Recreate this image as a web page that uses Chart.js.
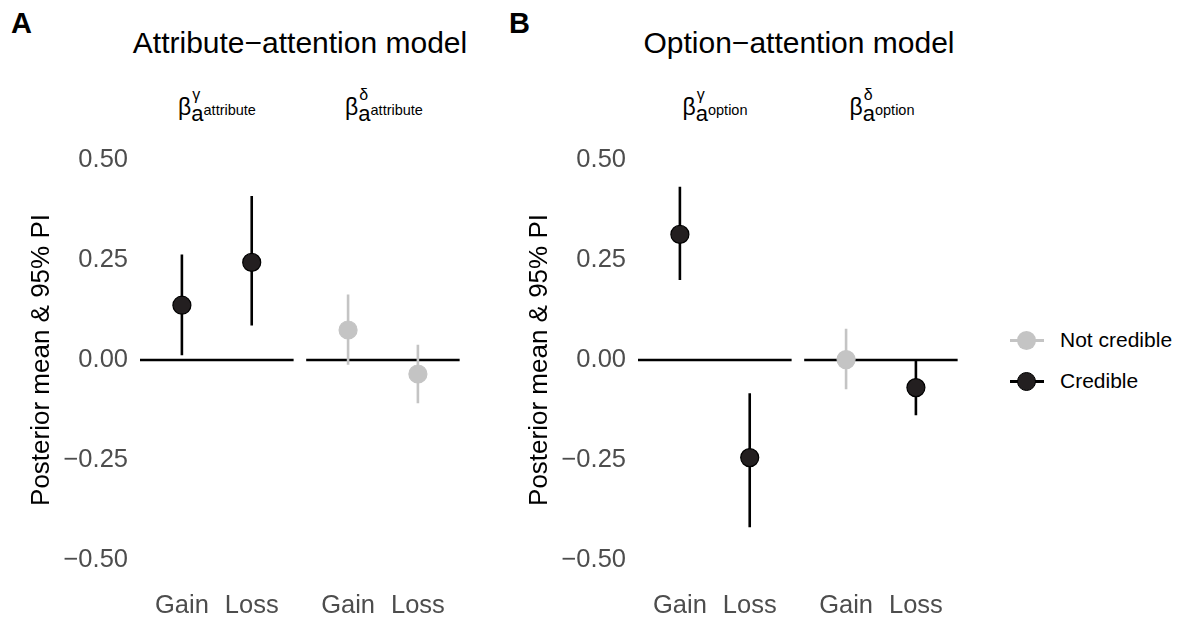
<!DOCTYPE html>
<html lang="en">

<head>
    <meta charset="UTF-8">
    <title>Attribute and option attention models</title>
    <script src="https://cdn.jsdelivr.net/npm/chart.js"></script>
    <style>
        body { margin: 0; width: 1180px; height: 618px; background: #fff; position: relative; overflow: hidden;
            font-family: "Liberation Sans", Arial, sans-serif; color: #000; }
        .panel { position: absolute; top: 0; width: 470px; height: 618px; }
        .tag { position: absolute; top: 7px; font-size: 29px; font-weight: bold; }
        .title { position: absolute; top: 26px; font-size: 30px; transform: translateX(-50%); white-space: nowrap; }
        .strip { position: absolute; top: 95px; transform: translateX(-50%); white-space: nowrap; font-size: 23px; line-height: 24px; }
        .strip .stack { position: relative; display: inline-block; }
        .strip .g { position: absolute; left: 1px; top: -12px; font-size: 16px; }
        .strip .a { position: relative; top: 6px; font-size: 22px; }
        .strip .s { position: relative; top: 0px; font-size: 14.5px; }
        .legend { position: absolute; left: 1008px; font-size: 21px; }
        .legend .row { position: absolute; left: 0; width: 180px; height: 30px; }
        .legend .ln { position: absolute; left: 2px; top: 13px; width: 34px; height: 3px; }
        .legend .dot { position: absolute; left: 9px; top: 5px; width: 19px; height: 19px; border-radius: 50%; box-sizing: border-box; }
        .legend .txt { position: absolute; left: 52px; top: 2px; white-space: nowrap; }
    </style>
</head>

<body>
    <div class="tag" style="left: 11px;">A</div>
    <div class="tag" style="left: 509px;">B</div>
    <div class="title" style="left: 300px;">Attribute−attention model</div>
    <div class="title" style="left: 799px;">Option−attention model</div>

    <div class="strip" style="left: 217px;">β<span class="stack"><span class="g">γ</span><span class="a">a</span></span><span class="s">attribute</span></div>
    <div class="strip" style="left: 384px;">β<span class="stack"><span class="g">δ</span><span class="a">a</span></span><span class="s">attribute</span></div>
    <div class="strip" style="left: 715px;">β<span class="stack"><span class="g">γ</span><span class="a">a</span></span><span class="s">option</span></div>
    <div class="strip" style="left: 882px;">β<span class="stack"><span class="g">δ</span><span class="a">a</span></span><span class="s">option</span></div>

    <div class="panel" style="left: 0px;"><canvas id="chartA"></canvas></div>
    <div class="panel" style="left: 498px;"><canvas id="chartB"></canvas></div>

    <div class="legend" style="top: 326px;">
        <div class="row" style="top: 0;">
            <div class="ln" style="background: #c4c4c4;"></div>
            <div class="dot" style="background: #c4c4c4;"></div>
            <div class="txt">Not credible</div>
        </div>
        <div class="row" style="top: 41px;">
            <div class="ln" style="background: #000;"></div>
            <div class="dot" style="background: #231f20; border: 1.5px solid #000;"></div>
            <div class="txt">Credible</div>
        </div>
    </div>

    <script>
        // categories inside each facet, facet order: gamma then delta
        var categories = ['Gain', 'Loss'];
        var yTicks = [-0.5, -0.25, 0, 0.25, 0.5];

        // attribute-attention model: [gamma Gain, gamma Loss, delta Gain, delta Loss]
        var attrMean = [0.137, 0.244, 0.075, -0.035];
        var attrLow = [0.012, 0.086, -0.012, -0.108];
        var attrHigh = [0.264, 0.410, 0.164, 0.038];
        var attrCredible = [true, true, false, false];

        // option-attention model
        var optMean = [0.314, -0.244, 0.001, -0.069];
        var optLow = [0.200, -0.418, -0.073, -0.138];
        var optHigh = [0.433, -0.083, 0.078, 0.000];
        var optCredible = [true, true, false, true];

        var DARK = '#231f20', GREY = '#c4c4c4';
        var FACET_SHIFT = 2.38; // second facet sits right of the first one
        var xPos = [1, 2, 1 + FACET_SHIFT, 2 + FACET_SHIFT];
        var facetRanges = [[0.4, 2.6], [0.4 + FACET_SHIFT, 2.6 + FACET_SHIFT]];

        function makeChart(id, mean, low, high, credible) {
            var datasets = [];
            // points on top
            datasets.push({
                type: 'scatter',
                data: mean.map(function (v, i) { return { x: xPos[i], y: v }; }),
                pointRadius: 9,
                pointBorderWidth: 1.2,
                pointBackgroundColor: credible.map(function (c) { return c ? DARK : GREY; }),
                pointBorderColor: credible.map(function (c) { return c ? '#000' : GREY; }),
                order: 0
            });
            // 95% intervals
            mean.forEach(function (v, i) {
                datasets.push({
                    type: 'line',
                    data: [{ x: xPos[i], y: low[i] }, { x: xPos[i], y: high[i] }],
                    borderColor: credible[i] ? '#000' : GREY,
                    borderWidth: 2.6,
                    pointRadius: 0,
                    order: 1
                });
            });
            // zero reference line per facet
            facetRanges.forEach(function (r) {
                datasets.push({
                    type: 'line',
                    data: [{ x: r[0], y: 0 }, { x: r[1], y: 0 }],
                    borderColor: '#000',
                    borderWidth: 2.7,
                    pointRadius: 0,
                    order: 2
                });
            });

            return new Chart(document.getElementById(id), {
                type: 'scatter',
                data: { datasets: datasets },
                options: {
                    responsive: true,
                    maintainAspectRatio: false,
                    animation: false,
                    events: [],
                    layout: { padding: { top: 140, right: 9, left: 0, bottom: 0 } },
                    plugins: { legend: { display: false }, tooltip: { enabled: false } },
                    scales: {
                        x: {
                            type: 'linear',
                            min: 0.4,
                            max: 2.6 + FACET_SHIFT,
                            grid: { display: false },
                            border: { display: false },
                            afterBuildTicks: function (scale) {
                                scale.ticks = xPos.map(function (v) { return { value: v }; });
                            },
                            afterFit: function (scale) { scale.height = 38; },
                            ticks: {
                                autoSkip: false,
                                maxRotation: 0,
                                padding: 3,
                                color: '#4d4d4d',
                                font: { family: 'Liberation Sans', size: 25.5 },
                                callback: function (v) {
                                    var i = xPos.indexOf(v);
                                    return i < 0 ? '' : categories[i % 2];
                                }
                            }
                        },
                        y: {
                            min: -0.55,
                            max: 0.55,
                            grid: { display: false },
                            border: { display: false },
                            afterBuildTicks: function (scale) {
                                scale.ticks = yTicks.map(function (v) { return { value: v }; });
                            },
                            afterFit: function (scale) { scale.width = 140; },
                            ticks: {
                                padding: 4,
                                color: '#4d4d4d',
                                font: { family: 'Liberation Sans', size: 25.5 },
                                callback: function (v) { return v.toFixed(2).replace('-', '−'); }
                            },
                            title: {
                                display: true,
                                text: 'Posterior mean & 95% PI',
                                color: '#000',
                                padding: { top: 26, bottom: 0 },
                                font: { family: 'Liberation Sans', size: 26 }
                            }
                        }
                    }
                }
            });
        }

        makeChart('chartA', attrMean, attrLow, attrHigh, attrCredible);
        makeChart('chartB', optMean, optLow, optHigh, optCredible);
    </script>
</body>

</html>
